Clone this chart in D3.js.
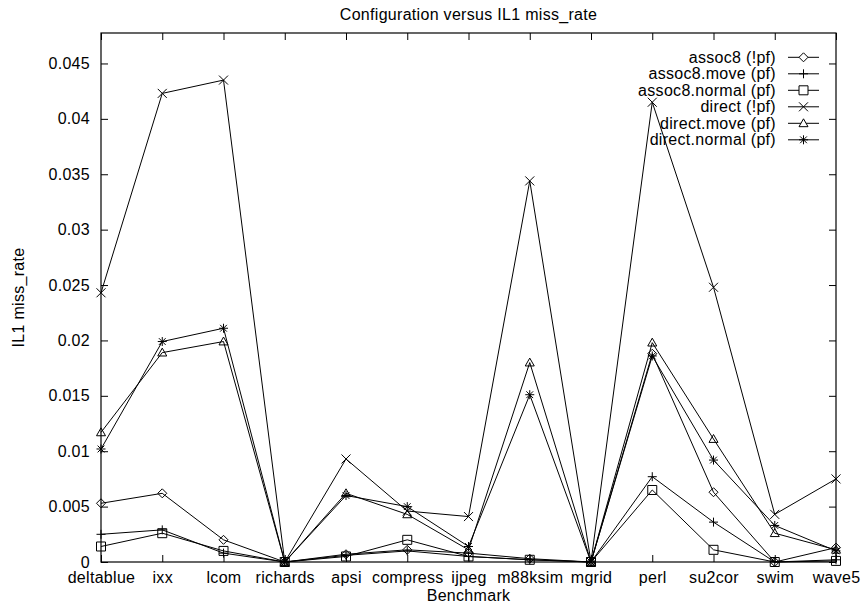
<!DOCTYPE html>
<html>
<head>
<meta charset="utf-8">
<script src="https://cdn.jsdelivr.net/npm/d3@7"></script>
<style>
  body { margin: 0; background: #fff; }
  text { font-family: "Liberation Sans", Arial, sans-serif; fill: #000; letter-spacing: 0.3px; }
</style>
</head>
<body>
<div id="chart"></div>
<script>
// benchmarks along the x axis
var benchmarks = ["deltablue", "ixx", "lcom", "richards", "apsi", "compress", "ijpeg",
                  "m88ksim", "mgrid", "perl", "su2cor", "swim", "wave5"];

// series values (IL1 miss_rate)
var assoc8 =       [0.0053, 0.0062, 0.0020, 0, 0.0007, 0.0011, 0.0008, 0.0003, 0, 0.0188, 0.0063, 0, 0.0013];
var assoc8Move =   [0.0025, 0.0029, 0.0008, 0, 0.0006, 0.0010, 0.0005, 0.0002, 0, 0.0077, 0.0036, 0, 0.0002];
var assoc8Normal = [0.0014, 0.0026, 0.0010, 0, 0.0005, 0.0020, 0.0005, 0.0002, 0, 0.0065, 0.0011, 0, 0.0001];
var direct =       [0.0243, 0.0423, 0.0435, 0, 0.0093, 0.0046, 0.0041, 0.0344, 0, 0.0415, 0.0248, 0.0043, 0.0075];
var directMove =   [0.0117, 0.0189, 0.0199, 0, 0.0062, 0.0043, 0.0011, 0.0180, 0, 0.0198, 0.0111, 0.0026, 0.0011];
var directNormal = [0.0102, 0.0199, 0.0211, 0, 0.0060, 0.0050, 0.0014, 0.0151, 0, 0.0186, 0.0092, 0.0033, 0.0010];

var seriesNames = ["assoc8 (!pf)", "assoc8.move (pf)", "assoc8.normal (pf)",
                   "direct (!pf)", "direct.move (pf)", "direct.normal (pf)"];
var seriesMarkers = ["diamond", "plus", "square", "cross", "triangle", "star"];
var yTicks = [0, 0.005, 0.01, 0.015, 0.02, 0.025, 0.03, 0.035, 0.04, 0.045];

var series = [assoc8, assoc8Move, assoc8Normal, direct, directMove, directNormal].map(function(v, i) {
  return { name: seriesNames[i], marker: seriesMarkers[i], values: v };
});

var W = 864, H = 607;
var margin = {top: 33, right: 28, bottom: 45, left: 101},
    width = W - margin.left - margin.right,
    height = H - margin.top - margin.bottom;

var svg = d3.select("#chart")
  .append("svg")
    .attr("width", W)
    .attr("height", H)
  .append("g")
    .attr("transform", "translate(" + margin.left + "," + margin.top + ")");

var x = d3.scalePoint()
  .domain(benchmarks)
  .range([0, width]);

var y = d3.scaleLinear()
  .domain([0, 0.04775])
  .range([height, 0]);

var tickLen = 7;
var fontSize = "16px";

// frame
svg.append("rect")
  .attr("width", width)
  .attr("height", height)
  .attr("fill", "none")
  .attr("stroke", "#000")
  .attr("stroke-width", 1.2);

// y axis (ticks inward, mirrored on the right)
var yAxis = d3.axisLeft(y).tickValues(yTicks).tickSize(-tickLen).tickPadding(11)
  .tickFormat(function(d) { return d === 0 ? "0" : d3.format("")(+d.toFixed(3)); });
svg.append("g").call(yAxis).call(function(g) {
  g.select(".domain").remove();
  g.selectAll("text").style("font-size", fontSize);
});
svg.append("g")
  .attr("transform", "translate(" + width + ",0)")
  .call(d3.axisRight(y).tickValues(yTicks).tickSize(-tickLen).tickFormat(""))
  .call(function(g) { g.select(".domain").remove(); });

// x axis (ticks inward, mirrored on top)
svg.append("g")
  .attr("transform", "translate(0," + height + ")")
  .call(d3.axisBottom(x).tickSize(-tickLen).tickPadding(10))
  .call(function(g) {
    g.select(".domain").remove();
    g.selectAll("text").style("font-size", fontSize);
  });
svg.append("g")
  .call(d3.axisTop(x).tickSize(-tickLen).tickFormat(""))
  .call(function(g) { g.select(".domain").remove(); });

svg.selectAll(".tick line").attr("stroke", "#000");

// titles
svg.append("text")
  .attr("x", width / 2)
  .attr("y", -13)
  .attr("text-anchor", "middle")
  .style("font-size", fontSize)
  .text("Configuration versus IL1 miss_rate");

svg.append("text")
  .attr("x", width / 2)
  .attr("y", height + 39)
  .attr("text-anchor", "middle")
  .style("font-size", fontSize)
  .text("Benchmark");

svg.append("text")
  .attr("transform", "rotate(-90)")
  .attr("x", -height / 2)
  .attr("y", -77)
  .attr("text-anchor", "middle")
  .style("font-size", fontSize)
  .text("IL1 miss_rate");

// marker shapes
function markerPath(type) {
  var s = 4.5;
  switch (type) {
    case "diamond": return "M0," + (-s) + "L" + s + ",0L0," + s + "L" + (-s) + ",0Z";
    case "plus": return "M" + (-s) + ",0H" + s + "M0," + (-s) + "V" + s;
    case "square": return "M" + (-s) + "," + (-s) + "H" + s + "V" + s + "H" + (-s) + "Z";
    case "cross": return "M" + (-s) + "," + (-s) + "L" + s + "," + s + "M" + s + "," + (-s) + "L" + (-s) + "," + s;
    case "triangle": return "M0," + (-s) + "L" + s + "," + (s * 0.75) + "H" + (-s) + "Z";
    case "star": return "M" + (-s) + ",0H" + s + "M0," + (-s) + "V" + s +
      "M" + (-s * 0.75) + "," + (-s * 0.75) + "L" + (s * 0.75) + "," + (s * 0.75) +
      "M" + (s * 0.75) + "," + (-s * 0.75) + "L" + (-s * 0.75) + "," + (s * 0.75);
  }
}

var line = d3.line()
  .x(function(d, i) { return x(benchmarks[i]); })
  .y(function(d) { return y(d); });

var groups = svg.selectAll(".series")
  .data(series)
  .enter()
  .append("g")
    .attr("class", "series");

groups.append("path")
  .attr("d", function(d) { return line(d.values); })
  .attr("fill", "none")
  .attr("stroke", "#000")
  .attr("stroke-width", 1);

groups.each(function(s) {
  d3.select(this).selectAll("path.pt")
    .data(s.values)
    .enter()
    .append("path")
      .attr("class", "pt")
      .attr("transform", function(d, i) { return "translate(" + x(benchmarks[i]) + "," + y(d) + ")"; })
      .attr("d", markerPath(s.marker))
      .attr("fill", "none")
      .attr("stroke", "#000")
      .attr("stroke-width", 1);
});

// legend
var legend = svg.selectAll(".legend")
  .data(series)
  .enter()
  .append("g")
    .attr("class", "legend")
    .attr("transform", function(d, i) { return "translate(0," + (57.3 - margin.top + i * 16.5) + ")"; });

legend.append("text")
  .attr("x", 776 - margin.left)
  .attr("y", 5.5)
  .attr("text-anchor", "end")
  .style("font-size", fontSize)
  .text(function(d) { return d.name; });

legend.append("line")
  .attr("x1", 788 - margin.left)
  .attr("x2", 819 - margin.left)
  .attr("stroke", "#000");

legend.append("path")
  .attr("transform", "translate(" + (803.5 - margin.left) + ",0)")
  .attr("d", function(d) { return markerPath(d.marker); })
  .attr("fill", "#fff")
  .attr("stroke", "#000");
</script>
</body>
</html>
